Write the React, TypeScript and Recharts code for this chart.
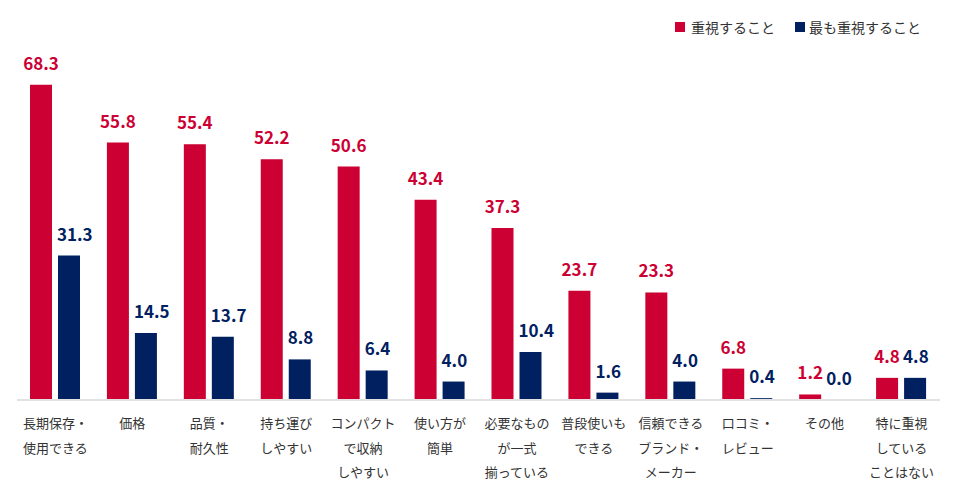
import { Bar, BarChart, LabelList, XAxis, YAxis } from "recharts"

const categories = [
  "長期保存・\n使用できる",
  "価格",
  "品質・\n耐久性",
  "持ち運び\nしやすい",
  "コンパクト\nで収納\nしやすい",
  "使い方が\n簡単",
  "必要なもの\nが一式\n揃っている",
  "普段使いも\nできる",
  "信頼できる\nブランド・\nメーカー",
  "口コミ・\nレビュー",
  "その他",
  "特に重視\nしている\nことはない",
]
const important = [68.3, 55.8, 55.4, 52.2, 50.6, 43.4, 37.3, 23.7, 23.3, 6.8, 1.2, 4.8]
const mostImportant = [31.3, 14.5, 13.7, 8.8, 6.4, 4.0, 10.4, 1.6, 4.0, 0.4, 0.0, 4.8]

const RED = "#cc0033"
const NAVY = "#00205f"
const FONT = "'Noto Sans CJK JP', 'Noto Sans', sans-serif"

const data = categories.map((name, i) => ({ name, a: important[i], b: mostImportant[i] }))

const CategoryTick = ({ x, y, payload }: any) => {
  const lines = String(payload.value).split("\n")
  return (
    <text x={x} y={y} textAnchor="middle" fontSize={13} fill="#333" fontFamily={FONT}>
      {lines.map((line, i) => (
        <tspan key={i} x={x} y={y + 28 + i * 24.5}>
          {line}
        </tspan>
      ))}
    </text>
  )
}

// red labels sit centred over the bar, navy ones start at the bar's left edge
const valueLabel = (color: string, alignStart: boolean) => (props: any) => {
  const { x, y, width, value } = props
  return (
    <text
      x={alignStart ? x - 1 : x + width / 2}
      y={y - 15}
      textAnchor={alignStart ? "start" : "middle"}
      fontSize={17}
      fontWeight={700}
      fill={color}
      fontFamily={FONT}
    >
      {Number(value).toFixed(1)}
    </text>
  )
}

export default function App() {
  return (
    <div style={{ position: "absolute", left: 0, top: 0, width: 957, height: 501, background: "#fff" }}>
      <div
        style={{
          position: "absolute",
          left: 675,
          top: 17,
          display: "flex",
          alignItems: "center",
          fontFamily: FONT,
          fontSize: 14,
          color: "#333",
        }}
      >
        <span style={{ width: 10, height: 10, background: RED, marginRight: 6 }} />
        <span style={{ marginRight: 20 }}>重視すること</span>
        <span style={{ width: 10, height: 10, background: NAVY, marginRight: 4 }} />
        <span>最も重視すること</span>
      </div>
      <BarChart
        width={957}
        height={501}
        data={data}
        margin={{ top: 77, right: 17, bottom: 0, left: 17 }}
        barSize={22}
        barGap={6}
      >
        <XAxis
          dataKey="name"
          interval={0}
          tickLine={false}
          tickSize={0}
          tickMargin={0}
          axisLine={{ stroke: "#e2e2e2", strokeWidth: 2 }}
          tick={<CategoryTick />}
          height={101}
        />
        <YAxis hide domain={[0, 70]} />
        <Bar dataKey="a" fill={RED} isAnimationActive={false}>
          <LabelList dataKey="a" content={valueLabel(RED, false)} />
        </Bar>
        <Bar dataKey="b" fill={NAVY} minPointSize={0.01} isAnimationActive={false}>
          <LabelList dataKey="b" content={valueLabel(NAVY, true)} />
        </Bar>
      </BarChart>
    </div>
  )
}
